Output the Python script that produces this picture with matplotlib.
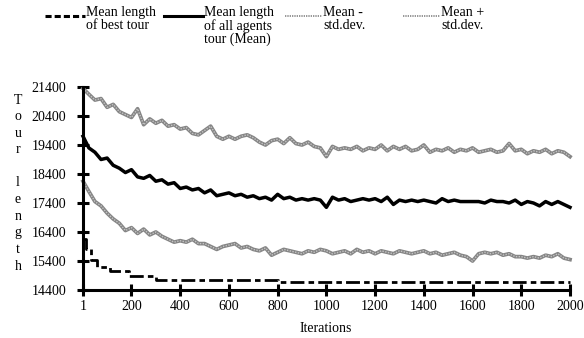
import numpy as np
import matplotlib.pyplot as plt
from matplotlib.lines import Line2D

plt.rcParams['font.family'] = ['Liberation Serif', 'DejaVu Serif']
plt.rcParams['font.size'] = 10

# iteraciones cada 25
iters = [1] + list(range(25, 2001, 25))

upper = [21350, 21150, 20950, 21000, 20700, 20800, 20550, 20450, 20350, 20650,
         20100, 20300, 20150, 20250, 20050, 20100, 19950, 20000, 19800, 19750,
         19900, 20050, 19700, 19600, 19700, 19600, 19700, 19750, 19650, 19500,
         19400, 19550, 19600, 19450, 19650, 19450, 19400, 19500, 19350, 19300,
         19000, 19350, 19250, 19300, 19250, 19350, 19200, 19300, 19250, 19400,
         19200, 19350, 19250, 19350, 19200, 19250, 19400, 19150, 19250, 19200,
         19300, 19150, 19250, 19200, 19300, 19150, 19200, 19250, 19150, 19200,
         19450, 19200, 19250, 19100, 19200, 19150, 19250, 19100, 19200, 19150,
         19000]

mean = [19700, 19300, 19150, 18900, 18950, 18700, 18600, 18450, 18550, 18300,
        18250, 18350, 18150, 18200, 18050, 18100, 17900, 17950, 17850, 17900,
        17750, 17850, 17650, 17700, 17750, 17650, 17700, 17600, 17650, 17550,
        17600, 17500, 17700, 17550, 17600, 17500, 17550, 17500, 17550, 17500,
        17250, 17600, 17500, 17550, 17450, 17500, 17550, 17500, 17550, 17450,
        17600, 17350, 17500, 17450, 17500, 17450, 17500, 17450, 17400, 17550,
        17450, 17500, 17450, 17450, 17450, 17450, 17400, 17500, 17450, 17450,
        17400, 17500, 17350, 17450, 17400, 17300, 17450, 17350, 17450, 17350,
        17250]

lower = [18150, 17800, 17450, 17300, 17050, 16850, 16700, 16450, 16550, 16350,
         16500, 16300, 16400, 16250, 16150, 16050, 16100, 16050, 16150, 16000,
         16000, 15900, 15800, 15900, 15950, 16000, 15850, 15900, 15800, 15750,
         15850, 15600, 15700, 15800, 15750, 15700, 15650, 15750, 15700, 15800,
         15750, 15650, 15700, 15750, 15650, 15800, 15700, 15750, 15650, 15750,
         15700, 15650, 15750, 15700, 15650, 15700, 15750, 15650, 15700, 15600,
         15650, 15700, 15600, 15550, 15400, 15650, 15700, 15650, 15700, 15600,
         15650, 15550, 15550, 15500, 15550, 15500, 15600, 15550, 15650, 15500,
         15450]

best_it = [1, 15, 35, 60, 110, 190, 300, 800, 2000]
best = [16150, 15800, 15450, 15200, 15050, 14900, 14750, 14690, 14690]

fig = plt.figure(figsize=(5.84, 3.38), dpi=100)
ax = fig.add_axes([83/584, 1-290/338, 487/584, 203/338])

gris = '#858585'
claro = '#c4c4c4'
for serie in (upper, lower):
    ax.plot(iters, serie, color=gris, lw=2.7, clip_on=False)
    ax.plot(iters, serie, color=claro, lw=1.0, dashes=(1, 1), clip_on=False)
ax.plot(iters, mean, color='black', lw=2.5, clip_on=False)
ax.plot(best_it, best, color='black', lw=2.0, drawstyle='steps-post',
        dashes=(5, 1.5, 2, 1.5), clip_on=False)

ax.set_xlim(1, 2000)
ax.set_ylim(14400, 21400)
ax.set_xticks([1] + list(range(200, 2001, 200)))
ax.set_yticks(range(14400, 21401, 1000))
for s in ['top', 'right']:
    ax.spines[s].set_visible(False)
for s in ['left', 'bottom']:
    ax.spines[s].set_linewidth(2.2)
ax.tick_params(axis='y', direction='inout', length=8, width=2.2, pad=8)
ax.tick_params(axis='x', direction='inout', length=8, width=2.2, pad=3)

fig.text(326/584, 1-329/338, 'Iterations', ha='center', va='center')
fig.text(18/584, 1-183/338, '\n'.join('Tour length'), ha='center', va='center',
         linespacing=1.36)

# leyenda manual
ent = [(45, 85, 'Mean length\nof best tour', 'best'),
       (164, 203, 'Mean length\nof all agents\ntour (Mean)', 'mean'),
       (285, 322, 'Mean -\nstd.dev.', 'std'),
       (403, 440, 'Mean +\nstd.dev.', 'std')]
for x0, x1, txt, tipo in ent:
    xs = [x0/584, x1/584]
    ys = [1-16/338, 1-16/338]
    if tipo == 'best':
        fig.add_artist(Line2D(xs, ys, color='black', lw=2.2, dashes=(2, 1)))
    elif tipo == 'mean':
        fig.add_artist(Line2D(xs, ys, color='black', lw=2.2))
    else:
        fig.add_artist(Line2D(xs, ys, color=gris, lw=1.2, dashes=(0.8, 0.6)))
    fig.text((x1+1)/584, 1-6/338, txt, ha='left', va='top', linespacing=1.0)

fig.savefig('out.png', dpi=100)
